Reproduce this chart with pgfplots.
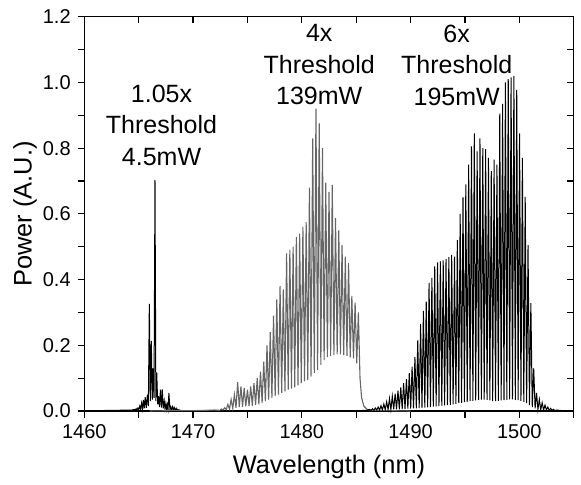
\documentclass[border=0pt]{standalone}
\usepackage{fontspec}
\setmainfont{Liberation Sans}
\usepackage{pgfplots}
\pgfplotsset{compat=1.18}
\begin{document}
\begin{tikzpicture}
\useasboundingbox (-42.15pt,-37pt) rectangle (248.35pt,205.5pt);
\begin{axis}[
 at={(0,0)}, anchor=south west,
 scale only axis, width=244.7pt, height=197.15pt,
 xmin=1460, xmax=1505, ymin=0, ymax=1.2,
 axis line style={line width=0.6pt},
 xtick={1460,1470,1480,1490,1500}, minor xtick={1465,1475,1485,1495,1505},
 ytick={0,0.2,0.4,0.6,0.8,1.0,1.2}, minor ytick={0.1,0.3,0.5,0.7,0.9,1.1},
 xtick pos=bottom, ytick pos=left, tick align=outside,
 major tick length=3.3pt, minor tick length=3.3pt,
 tick style={black, line width=0.6pt},
 /pgf/number format/assume math mode=true,
 xticklabel style={/pgf/number format/set thousands separator={}, font=\fontsize{10}{12}\selectfont},
 yticklabel style={/pgf/number format/fixed, /pgf/number format/fixed zerofill, /pgf/number format/precision=1, font=\fontsize{10}{12}\selectfont},
 xlabel={Wavelength (nm)}, ylabel={Power (A.U.)},
 label style={font=\fontsize{12.7}{15}\selectfont},
 x label style={at={(axis description cs:0.5,-0.141)}, anchor=center},
 y label style={at={(axis description cs:-0.121,0.5)}, anchor=center},
 clip=false,
]
% 1.05x threshold
\addplot[black, line width=0.5pt] coordinates {
(1461.5,0.000) (1462.0,0.002) (1463.0,0.002) (1464.0,0.003) (1464.4,0.003)
(1464.6,0.005) (1464.68,0.003) (1464.77,0.007) (1464.85,0.003) (1464.93,0.009) (1465.01,0.004) (1465.1,0.015) (1465.18,0.005) (1465.27,0.024) (1465.35,0.006) (1465.43,0.034) (1465.51,0.008) (1465.6,0.042) (1465.7,0.010) (1465.8,0.050) (1465.89,0.015) (1465.98,0.326) (1466.07,0.030) (1466.16,0.213) (1466.25,0.035) (1466.33,0.130) (1466.41,0.040) (1466.5,0.703) (1466.58,0.030) (1466.66,0.117) (1466.75,0.020) (1466.83,0.045) (1466.91,0.012) (1467.0,0.065) (1467.09,0.010) (1467.17,0.066) (1467.26,0.008) (1467.35,0.030) (1467.42,0.006) (1467.5,0.023) (1467.57,0.005) (1467.63,0.018) (1467.7,0.005) (1467.78,0.055) (1467.87,0.004) (1467.95,0.013) (1468.03,0.003) (1468.12,0.013) (1468.2,0.003) (1468.28,0.010) (1468.36,0.002) (1468.45,0.008) (1468.52,0.002) (1468.6,0.005) (1468.7,0.002) (1468.78,0.003) (1468.9,0.001) (1469.5,0.001) (1470.5,0.000)
};
% 4x threshold
\addplot[black!60, line width=0.55pt] coordinates {
(1466.0,0.000) (1468.0,0.001) (1470.0,0.001) (1471.0,0.002) (1472.0,0.003)
(1472.45,0.002) (1472.6,0.006) (1472.75,0.003) (1472.9,0.010) (1473.05,0.004) (1473.2,0.020) (1473.35,0.006) (1473.5,0.035) (1473.65,0.008) (1473.8,0.050) (1473.95,0.010) (1474.1,0.088) (1474.25,0.012) (1474.4,0.075) (1474.55,0.013) (1474.7,0.070) (1474.85,0.014) (1475.0,0.065) (1475.15,0.015) (1475.3,0.075) (1475.45,0.016) (1475.6,0.085) (1475.75,0.018) (1475.9,0.100) (1476.05,0.020) (1476.2,0.120) (1476.35,0.025) (1476.5,0.150) (1476.65,0.030) (1476.8,0.200) (1476.95,0.035) (1477.1,0.240) (1477.25,0.040) (1477.4,0.290) (1477.55,0.045) (1477.7,0.340) (1477.85,0.050) (1478.0,0.380) (1478.15,0.055) (1478.3,0.370) (1478.45,0.060) (1478.6,0.480) (1478.75,0.065) (1478.9,0.490) (1479.05,0.068) (1479.2,0.500) (1479.35,0.072) (1479.5,0.530) (1479.65,0.078) (1479.8,0.540) (1479.95,0.085) (1480.1,0.560) (1480.25,0.090) (1480.4,0.575) (1480.55,0.095) (1480.7,0.680) (1480.85,0.105) (1481.0,0.830) (1481.15,0.115) (1481.3,0.920) (1481.45,0.125) (1481.6,0.875) (1481.75,0.140) (1481.9,0.800) (1482.05,0.155) (1482.2,0.695) (1482.35,0.165) (1482.5,0.667) (1482.65,0.168) (1482.8,0.688) (1482.95,0.170) (1483.1,0.587) (1483.25,0.172) (1483.4,0.550) (1483.55,0.172) (1483.7,0.505) (1483.85,0.170) (1484.0,0.470) (1484.15,0.168) (1484.3,0.450) (1484.45,0.163) (1484.6,0.350) (1484.75,0.160) (1484.9,0.330) (1485.05,0.145) (1485.2,0.300) (1485.35,0.100) (1485.5,0.040) (1485.7,0.015) (1486.0,0.005) (1486.5,0.002) (1488.0,0.001) (1490.0,0.000)
};
% 6x threshold
\addplot[black, line width=0.5pt] coordinates {
(1484.0,0.000) (1485.0,0.001) (1486.0,0.002)
(1486.2,0.005) (1486.35,0.002) (1486.5,0.007) (1486.63,0.002) (1486.76,0.009) (1486.89,0.003) (1487.02,0.012) (1487.15,0.003) (1487.28,0.016) (1487.41,0.003) (1487.54,0.021) (1487.67,0.004) (1487.8,0.028) (1487.93,0.004) (1488.06,0.038) (1488.19,0.004) (1488.32,0.045) (1488.45,0.005) (1488.58,0.053) (1488.71,0.005) (1488.84,0.062) (1488.97,0.005) (1489.1,0.072) (1489.23,0.006) (1489.36,0.085) (1489.49,0.006) (1489.62,0.097) (1489.75,0.007) (1489.88,0.115) (1490.01,0.007) (1490.14,0.135) (1490.27,0.008) (1490.4,0.165) (1490.53,0.008) (1490.66,0.215) (1490.79,0.009) (1490.92,0.265) (1491.05,0.010) (1491.18,0.305) (1491.31,0.010) (1491.44,0.333) (1491.57,0.011) (1491.7,0.390) (1491.83,0.012) (1491.96,0.405) (1492.09,0.013) (1492.22,0.440) (1492.35,0.014) (1492.48,0.452) (1492.61,0.015) (1492.74,0.455) (1492.87,0.016) (1493.0,0.458) (1493.13,0.017) (1493.26,0.462) (1493.39,0.018) (1493.52,0.468) (1493.65,0.019) (1493.78,0.475) (1493.91,0.020) (1494.04,0.470) (1494.17,0.022) (1494.3,0.520) (1494.43,0.024) (1494.56,0.600) (1494.69,0.025) (1494.82,0.650) (1494.95,0.027) (1495.08,0.690) (1495.21,0.028) (1495.34,0.750) (1495.47,0.030) (1495.6,0.805) (1495.73,0.031) (1495.86,0.845) (1495.99,0.032) (1496.12,0.790) (1496.25,0.034) (1496.38,0.830) (1496.51,0.035) (1496.64,0.800) (1496.77,0.035) (1496.9,0.797) (1497.03,0.034) (1497.16,0.770) (1497.29,0.032) (1497.42,0.730) (1497.55,0.030) (1497.68,0.765) (1497.81,0.030) (1497.94,0.750) (1498.07,0.031) (1498.2,0.905) (1498.33,0.032) (1498.46,0.935) (1498.59,0.033) (1498.72,1.000) (1498.85,0.034) (1498.98,1.010) (1499.11,0.035) (1499.24,1.015) (1499.37,0.035) (1499.5,1.020) (1499.63,0.034) (1499.76,0.977) (1499.89,0.033) (1500.02,0.845) (1500.15,0.031) (1500.28,0.770) (1500.41,0.028) (1500.54,0.652) (1500.67,0.024) (1500.8,0.505) (1500.93,0.018) (1501.06,0.328) (1501.19,0.012) (1501.32,0.130) (1501.45,0.008) (1501.58,0.055) (1501.71,0.005) (1501.84,0.035) (1501.97,0.004) (1502.1,0.025) (1502.23,0.003) (1502.36,0.018) (1502.49,0.003) (1502.62,0.012) (1502.75,0.002) (1502.88,0.008) (1503.01,0.002) (1503.14,0.005) (1503.27,0.001) (1503.4,0.003) (1504.0,0.001) (1505.0,0.001)
};
\node[align=center, font=\fontsize{12.5}{15.75}\selectfont] at (axis cs:1467.1,0.87) {1.05x\\Threshold\\4.5mW};
\node[align=center, font=\fontsize{12.5}{15.75}\selectfont] at (axis cs:1481.6,1.053) {4x\\Threshold\\139mW};
\node[align=center, font=\fontsize{12.5}{15.75}\selectfont] at (axis cs:1494.24,1.053) {6x\\Threshold\\195mW};
\end{axis}
\begin{axis}[
 at={(0,0)}, anchor=south west,
 scale only axis, width=244.7pt, height=197.15pt,
 xmin=1460, xmax=1505, ymin=0, ymax=1.2,
 axis line style={draw=none},
 xtick={1460,1470,1480,1490,1500}, minor xtick={1465,1475,1485,1495,1505},
 ytick={0,0.2,0.4,0.6,0.8,1.0,1.2}, minor ytick={0.1,0.3,0.5,0.7,0.9,1.1},
 xtick pos=top, ytick pos=right, tick align=inside,
 major tick length=3.3pt, minor tick length=3.3pt,
 tick style={black, line width=0.6pt},
 xticklabels={}, yticklabels={},
]
\end{axis}
\end{tikzpicture}
\end{document}
